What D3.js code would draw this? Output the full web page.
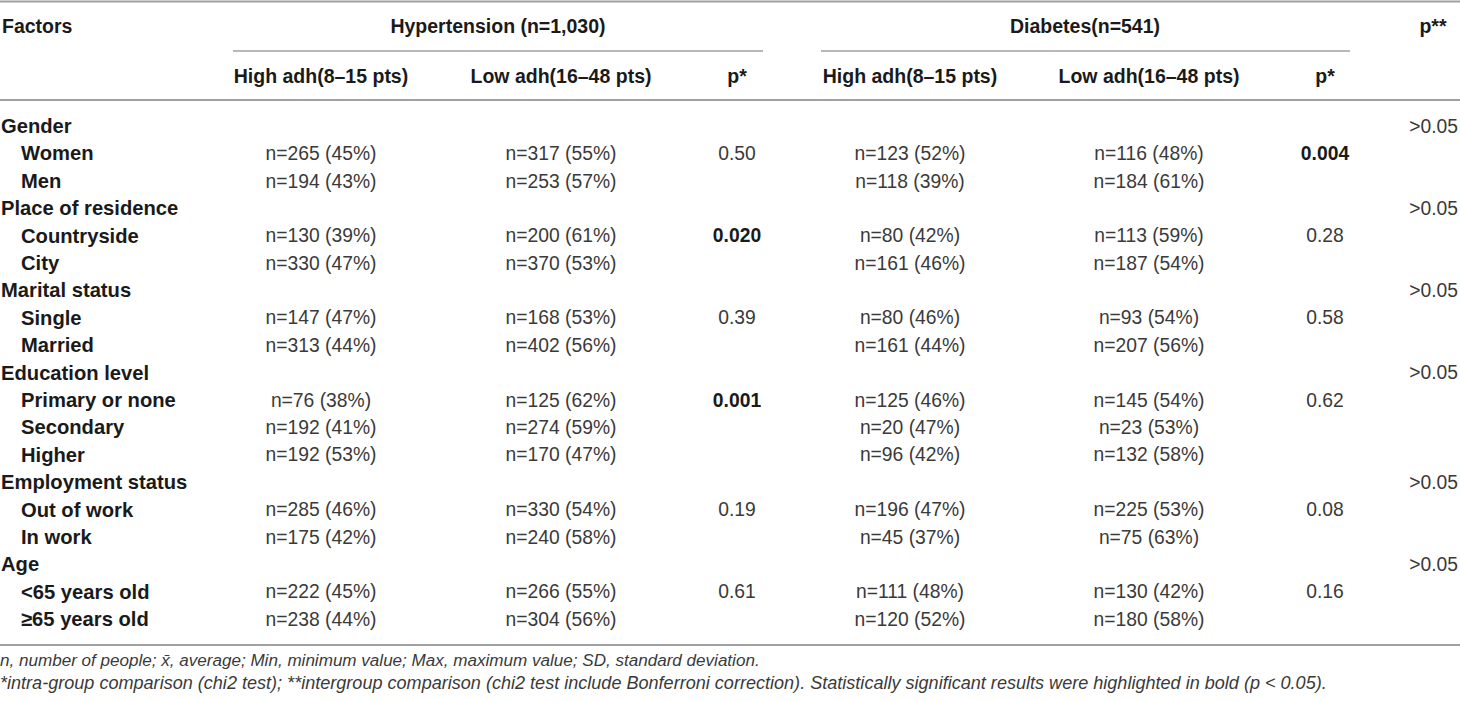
<!DOCTYPE html>
<html>
<head>
<meta charset="utf-8">
<script src="https://cdn.jsdelivr.net/npm/d3@7"></script>
<style>
  html, body { margin: 0; padding: 0; background: #fff; }
  svg { display: block; }
  text { font-family: "Liberation Sans", Arial, Helvetica, sans-serif; }
</style>
</head>
<body>
<svg id="chart" width="1460" height="701"></svg>
<script>
// ---------- data ----------
const groups = ["Gender", "Place of residence", "Marital status", "Education level", "Employment status", "Age"];
const subcats = [
  ["Women", "Men"],
  ["Countryside", "City"],
  ["Single", "Married"],
  ["Primary or none", "Secondary", "Higher"],
  ["Out of work", "In work"],
  ["<65 years old", "≥65 years old"]
];
const hypHighN   = [265, 194, 130, 330, 147, 313, 76, 192, 192, 285, 175, 222, 238];
const hypHighPct = [45, 43, 39, 47, 47, 44, 38, 41, 53, 46, 42, 45, 44];
const hypLowN    = [317, 253, 200, 370, 168, 402, 125, 274, 170, 330, 240, 266, 304];
const hypLowPct  = [55, 57, 61, 53, 53, 56, 62, 59, 47, 54, 58, 55, 56];
const hypP       = ["0.50", "0.020", "0.39", "0.001", "0.19", "0.61"];
const hypPBold   = [false, true, false, true, false, false];
const diaHighN   = [123, 118, 80, 161, 80, 161, 125, 20, 96, 196, 45, 111, 120];
const diaHighPct = [52, 39, 42, 46, 46, 44, 46, 47, 42, 47, 37, 48, 52];
const diaLowN    = [116, 184, 113, 187, 93, 207, 145, 23, 132, 225, 75, 130, 180];
const diaLowPct  = [48, 61, 59, 54, 54, 56, 54, 53, 58, 53, 63, 42, 58];
const diaP       = ["0.004", "0.28", "0.58", "0.62", "0.08", "0.16"];
const diaPBold   = [true, false, false, false, false, false];
const interP     = [">0.05", ">0.05", ">0.05", ">0.05", ">0.05", ">0.05"];

const headerTop = ["Factors", "Hypertension (n=1,030)", "Diabetes(n=541)", "p**"];
const headerSub = ["High adh(8–15 pts)", "Low adh(16–48 pts)", "p*", "High adh(8–15 pts)", "Low adh(16–48 pts)", "p*"];
const footnotes = [
  "n, number of people; x\u0304, average; Min, minimum value; Max, maximum value; SD, standard deviation.",
  "*intra-group comparison (chi2 test); **intergroup comparison (chi2 test include Bonferroni correction). Statistically significant results were highlighted in bold (p < 0.05)."
];

// ---------- build rows ----------
const rows = [];
let k = 0;
groups.forEach((g, gi) => {
  rows.push({type: "group", label: g, inter: interP[gi]});
  subcats[gi].forEach((s, si) => {
    rows.push({
      type: "sub", label: s,
      hh: `n=${hypHighN[k]} (${hypHighPct[k]}%)`,
      hl: `n=${hypLowN[k]} (${hypLowPct[k]}%)`,
      hp: si === 0 ? hypP[gi] : "", hpb: hypPBold[gi],
      dh: `n=${diaHighN[k]} (${diaHighPct[k]}%)`,
      dl: `n=${diaLowN[k]} (${diaLowPct[k]}%)`,
      dp: si === 0 ? diaP[gi] : "", dpb: diaPBold[gi]
    });
    k++;
  });
});

// ---------- scales ----------
const W = 1460;
const y = d3.scalePoint().domain(d3.range(rows.length)).range([126, 619]);
const colKeys = ["hh", "hl", "hp", "dh", "dl", "dp"];
const x = d3.scaleOrdinal().domain(colKeys).range([321, 561, 737, 910, 1149, 1325]);

const svg = d3.select("#chart");
const BOLD = "#1a1a1a", LIGHT = "#3a3a3a", RULE = "#a0a0a0";

// rules
const rules = [
  {x1: 0, x2: W, y: 1.5, w: 2},
  {x1: 233, x2: 763, y: 51, w: 1.5},
  {x1: 821, x2: 1350, y: 51, w: 1.5},
  {x1: 0, x2: W, y: 100, w: 2},
  {x1: 0, x2: W, y: 645, w: 2}
];
svg.selectAll("line.rule").data(rules).join("line")
  .attr("class", "rule")
  .attr("x1", d => d.x1).attr("x2", d => d.x2)
  .attr("y1", d => d.y).attr("y2", d => d.y)
  .attr("stroke", RULE).attr("stroke-width", d => d.w);

// header
const hdr = svg.append("g").attr("font-weight", "bold").attr("font-size", 19.5).attr("fill", BOLD);
const topPos = [{x: 2, a: "start"}, {x: 498, a: "middle"}, {x: 1085, a: "middle"}, {x: 1433, a: "middle"}];
hdr.selectAll("text.ht").data(headerTop).join("text")
  .attr("class", "ht")
  .attr("x", (d, i) => topPos[i].x).attr("y", 26).attr("dy", "0.35em")
  .attr("text-anchor", (d, i) => topPos[i].a)
  .text(d => d);
hdr.selectAll("text.hs").data(headerSub).join("text")
  .attr("class", "hs")
  .attr("x", (d, i) => x(colKeys[i])).attr("y", 76).attr("dy", "0.35em")
  .attr("text-anchor", "middle")
  .text(d => d);

// body
const body = svg.append("g");
const rg = body.selectAll("g.row").data(rows).join("g")
  .attr("class", "row")
  .attr("transform", (d, i) => `translate(0,${y(i)})`);

rg.append("text")
  .attr("x", d => d.type === "group" ? 1 : 21)
  .attr("dy", "0.35em")
  .attr("font-weight", "bold").attr("font-size", 20.2).attr("fill", BOLD)
  .text(d => d.label);

rg.filter(d => d.type === "group").append("text")
  .attr("x", 1458).attr("dy", "0.35em").attr("text-anchor", "end")
  .attr("font-size", 19.3).attr("fill", LIGHT)
  .text(d => d.inter);

colKeys.forEach(c => {
  rg.filter(d => d.type === "sub" && d[c]).append("text")
    .attr("x", x(c)).attr("dy", "0.35em").attr("text-anchor", "middle")
    .attr("font-size", 19.3)
    .attr("font-weight", d => (c === "hp" && d.hpb) || (c === "dp" && d.dpb) ? "bold" : "normal")
    .attr("fill", d => (c === "hp" && d.hpb) || (c === "dp" && d.dpb) ? BOLD : LIGHT)
    .text(d => d[c]);
});

// footnotes (each line fitted to the width it spans in the reference)
const fnY = [660, 683];
const fnW = [760, 1328];
svg.selectAll("text.fn").data(footnotes).join("text")
  .attr("class", "fn")
  .attr("x", 0).attr("y", (d, i) => fnY[i]).attr("dy", "0.35em")
  .attr("font-style", "italic").attr("font-size", 16).attr("fill", LIGHT)
  .text(d => d)
  .each(function(d, i) {
    const len = this.getComputedTextLength();
    if (len > 0) d3.select(this).attr("font-size", 16 * fnW[i] / len);
  });
</script>
</body>
</html>
